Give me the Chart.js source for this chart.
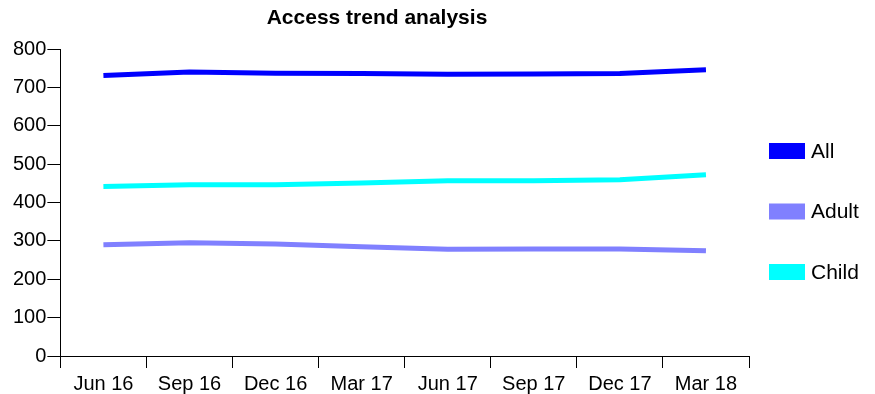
<!DOCTYPE html>
<html>
<head>
<meta charset="utf-8">
<script src="https://cdn.jsdelivr.net/npm/chart.js@4"></script>
<style>
  html, body { margin: 0; padding: 0; background: #fff; }
  #wrap { width: 875px; height: 394px; }
</style>
</head>
<body>
<div id="wrap"><canvas id="chart"></canvas></div>
<script>
// ==== Data ====
const quarters = ["Jun 16", "Sep 16", "Dec 16", "Mar 17", "Jun 17", "Sep 17", "Dec 17", "Mar 18"];
const allValues = [731, 740, 737, 736, 734, 735, 736, 746];
const adultValues = [290, 295, 292, 285, 278, 279, 279, 274];
const childValues = [442, 446, 446, 451, 457, 457, 459, 472];
const yTicks = [0, 100, 200, 300, 400, 500, 600, 700, 800];

const titleText = "Access trend analysis";
const fontName = "'Liberation Sans', Arial, sans-serif";

// ==== Title + legend drawn by hand ====
const decorPlugin = {
  id: "decor",
  afterDraw(chart) {
    const ctx = chart.ctx;
    const area = chart.chartArea;
    ctx.save();
    ctx.fillStyle = "#000";
    ctx.font = "bold 21px " + fontName;
    ctx.textAlign = "center";
    ctx.textBaseline = "middle";
    ctx.fillText(titleText, (area.right + 5) / 2, 18);

    ctx.font = "21px " + fontName;
    ctx.textAlign = "left";
    chart.data.datasets.forEach((ds, i) => {
      const top = area.top + 94 + i * 60.5;
      ctx.fillStyle = ds.borderColor;
      ctx.fillRect(area.right + 20, top, 36, 16);
      ctx.fillStyle = "#000";
      ctx.fillText(ds.label, area.right + 62, top + 9);
    });
    ctx.restore();
  }
};

// ==== Chart ====
const chart = new Chart(document.getElementById("chart"), {
  type: "line",
  data: {
    labels: quarters,
    datasets: [
      { label: "All", data: allValues, borderColor: "#0000ff" },
      { label: "Adult", data: adultValues, borderColor: "#8080ff" },
      { label: "Child", data: childValues, borderColor: "#00ffff" }
    ]
  },
  options: {
    responsive: true,
    maintainAspectRatio: false,
    animation: false,
    layout: { padding: { top: 49, right: 126, bottom: -6, left: 12 } },
    elements: {
      line: { borderWidth: 5, tension: 0, borderCapStyle: "butt" },
      point: { radius: 0, hoverRadius: 0 }
    },
    plugins: {
      legend: { display: false },
      title: { display: false },
      tooltip: { enabled: false }
    },
    scales: {
      x: {
        offset: true,
        border: { color: "#000", width: 1 },
        grid: { offset: true, drawOnChartArea: false, color: "#000", tickLength: 12 },
        ticks: { color: "#000", font: { family: fontName, size: 20 }, padding: 4, maxRotation: 0 }
      },
      y: {
        min: 0,
        max: 800,
        afterBuildTicks: (scale) => { scale.ticks = yTicks.map(v => ({ value: v })); },
        border: { color: "#000", width: 1 },
        grid: { drawOnChartArea: false, color: "#000", tickLength: 13 },
        ticks: { color: "#000", font: { family: fontName, size: 20 }, padding: 1 }
      }
    }
  },
  plugins: [decorPlugin]
});
</script>
</body>
</html>
